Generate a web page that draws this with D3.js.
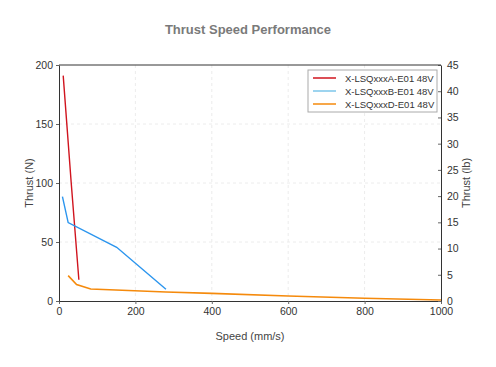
<!DOCTYPE html>
<html lang="en">
<head>
  <meta charset="UTF-8">
  <script src="https://d3js.org/d3.v7.min.js"></script>
  <title>Thrust Speed Performance</title>
  <style>
    body { margin: 0; background: #fff; }
  </style>
</head>
<body>
<div id="chart"></div>
<script>

// series data: speed (mm/s) / thrust (N)
var seriesNames = ["X-LSQxxxA-E01 48V", "X-LSQxxxB-E01 48V", "X-LSQxxxD-E01 48V"];
var seriesColors = ["#d0141e", "#2b95ee", "#f58a0c"];
var legendColors = ["#d0141e", "#7cc6ea", "#f58a0c"];

var speedA = [11, 32, 52];
var thrustA = [191, 100, 18];

var speedB = [9, 24, 151, 280];
var thrustB = [88.5, 66.5, 45.5, 10];

var speedD = [24, 46, 83, 280, 400, 600, 800, 1000];
var thrustD = [21.5, 14, 10.2, 7.6, 6.5, 4.2, 2.3, 0.8];

var xTicks = [0, 200, 400, 600, 800, 1000];
var yTicks = [0, 50, 100, 150, 200];
var y2Ticks = [0, 5, 10, 15, 20, 25, 30, 35, 40, 45];

var FONT = "'Liberation Sans', Arial, sans-serif";

var W = 496, H = 367;
var margin = {top: 65, right: 55, bottom: 66, left: 59},
    width = W - margin.left - margin.right,
    height = H - margin.top - margin.bottom;

var svg = d3.select("#chart")
  .append("svg")
    .attr("width", W)
    .attr("height", H)
    .style("font-family", FONT);

svg.append("text")
  .attr("x", 248).attr("y", 34)
  .attr("text-anchor", "middle")
  .style("font-size", "13px")
  .style("font-weight", "bold")
  .style("fill", "#7a7a7a")
  .text("Thrust Speed Performance");

var g = svg.append("g")
  .attr("transform", "translate(" + margin.left + "," + margin.top + ")");

var x = d3.scaleLinear().domain([0, 1000]).range([0, width]);
var y = d3.scaleLinear().domain([0, 200]).range([height, 0]);
var y2 = d3.scaleLinear().domain([0, 45]).range([height, 0]);

// grid
g.selectAll(".vgrid").data(xTicks.slice(1, -1)).enter().append("line")
  .attr("x1", function(d) { return x(d); }).attr("x2", function(d) { return x(d); })
  .attr("y1", 0).attr("y2", height)
  .attr("stroke", "#ececec").attr("stroke-dasharray", "3,3");
g.selectAll(".hgrid").data(yTicks.slice(1, -1)).enter().append("line")
  .attr("y1", function(d) { return y(d); }).attr("y2", function(d) { return y(d); })
  .attr("x1", 0).attr("x2", width)
  .attr("stroke", "#ececec").attr("stroke-dasharray", "3,3");

// axes
function styleAxis(sel) {
  sel.attr("font-family", FONT).attr("font-size", 10.5);
  sel.select(".domain").attr("stroke", "#333");
  sel.selectAll(".tick line").attr("stroke", "#666");
  sel.selectAll(".tick text").attr("fill", "#333");
}

g.append("g")
  .attr("transform", "translate(0," + height + ")")
  .call(d3.axisBottom(x).tickValues(xTicks).tickFormat(d3.format("d")).tickSize(3).tickSizeOuter(0).tickPadding(4))
  .call(styleAxis);

g.append("g")
  .call(d3.axisLeft(y).tickValues(yTicks).tickSize(3).tickSizeOuter(0).tickPadding(3))
  .call(styleAxis);

g.append("g")
  .attr("transform", "translate(" + width + ",0)")
  .call(d3.axisRight(y2).tickValues(y2Ticks).tickSize(-3).tickSizeOuter(0).tickPadding(6))
  .call(styleAxis);

// top border
g.append("line").attr("x1", 0).attr("x2", width).attr("y1", 0).attr("y2", 0).attr("stroke", "#333");

// axis labels
svg.append("text")
  .attr("x", 250).attr("y", 340)
  .attr("text-anchor", "middle")
  .style("font-size", "11px").style("fill", "#444")
  .text("Speed (mm/s)");

svg.append("text")
  .attr("transform", "translate(33," + (margin.top + height / 2) + ")rotate(-90)")
  .attr("text-anchor", "middle")
  .style("font-size", "11px").style("fill", "#444")
  .text("Thrust (N)");

svg.append("text")
  .attr("transform", "translate(470," + (margin.top + height / 2) + ")rotate(-90)")
  .attr("text-anchor", "middle")
  .style("font-size", "11px").style("fill", "#444")
  .text("Thrust (lb)");

// lines
var series = [
  d3.zip(speedA, thrustA),
  d3.zip(speedB, thrustB),
  d3.zip(speedD, thrustD)
];

var line = d3.line()
  .x(function(d) { return x(d[0]); })
  .y(function(d) { return y(d[1]); });

series.forEach(function(s, i) {
  g.append("path")
    .datum(s)
    .attr("fill", "none")
    .attr("stroke", seriesColors[i])
    .attr("stroke-width", i == 2 ? 1.6 : 1.4)
    .attr("d", line);
});

// legend
var lg = svg.append("g").attr("transform", "translate(308,70)");
lg.append("rect")
  .attr("width", 129).attr("height", 42)
  .attr("fill", "#fff").attr("stroke", "#aaa");
seriesNames.forEach(function(n, i) {
  var yy = 8 + i * 13;
  lg.append("line")
    .attr("x1", 5).attr("x2", 28).attr("y1", yy).attr("y2", yy)
    .attr("stroke", legendColors[i]).attr("stroke-width", 1.5);
  lg.append("text")
    .attr("x", 37).attr("y", yy + 4)
    .style("font-size", "9.5px").style("fill", "#333")
    .text(n);
});

</script>
</body>
</html>
